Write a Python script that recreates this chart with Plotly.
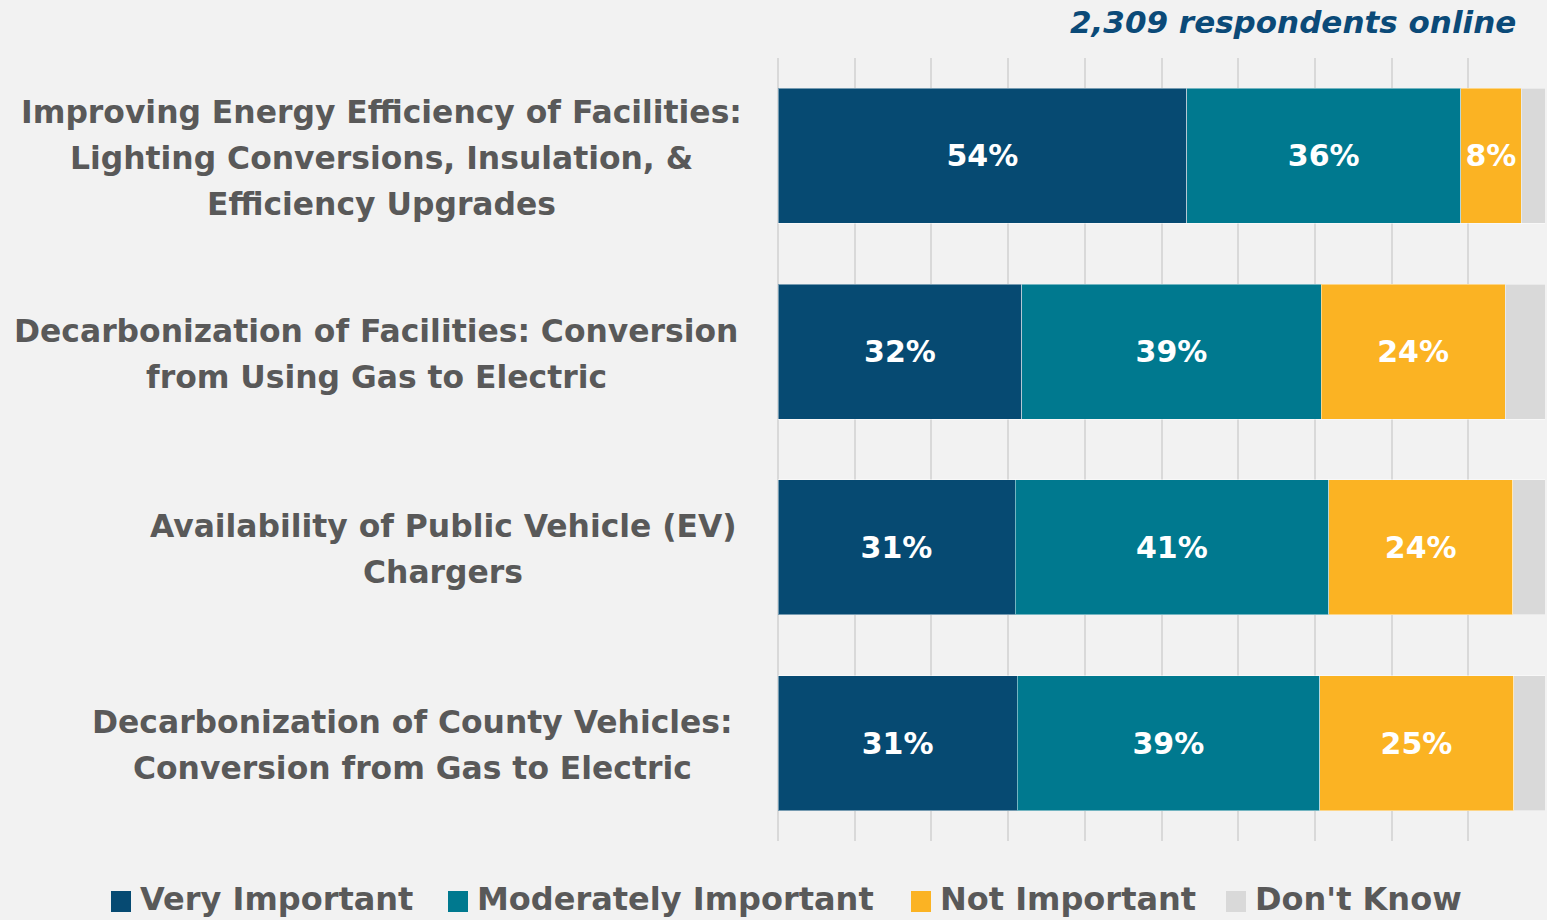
import plotly.graph_objects as go

categories = [
    "Improving Energy Efficiency of Facilities:<br>Lighting Conversions, Insulation, &<br>Efficiency Upgrades",
    "Decarbonization of Facilities: Conversion<br>from Using Gas to Electric",
    "Availability of Public Vehicle (EV)<br>Chargers",
    "Decarbonization of County Vehicles:<br>Conversion from Gas to Electric",
]
series_names = ["Very Important", "Moderately Important", "Not Important", "Don't Know"]
# bar lengths (share of respondents, %) as drawn
very_important = [53.3, 31.8, 30.9, 31.2]
moderately_important = [35.7, 39.0, 40.9, 39.4]
not_important = [7.9, 24.0, 24.0, 25.3]
dont_know = [3.1, 5.2, 4.2, 4.1]
# data labels as printed on the bars
very_important_labels = ["54%", "32%", "31%", "31%"]
moderately_important_labels = ["36%", "39%", "41%", "39%"]
not_important_labels = ["8%", "24%", "24%", "25%"]
dont_know_labels = ["", "", "", ""]
colors = ["#064a72", "#00798f", "#fbb323", "#d9d9d9"]

W, H = 1547, 920
L, R, T, B = 778, 2, 58, 79
PW, PH = W - L - R, H - T - B

def px_x(px):
    return (px - L) / PW

def px_y(py):
    return (H - B - py) / PH

FONT = "'DejaVu Sans', sans-serif"
GREY = "#595959"

series = [very_important, moderately_important, not_important, dont_know]
labels = [very_important_labels, moderately_important_labels, not_important_labels, dont_know_labels]

fig = go.Figure()
for i, (name, vals, txt) in enumerate(zip(series_names, series, labels)):
    fig.add_trace(go.Bar(
        y=categories, x=vals, name=name, orientation="h",
        marker=dict(color=colors[i], line=dict(color="rgba(255,255,255,0.45)", width=1)),
        text=txt, texttemplate="%{text}",
        textposition="inside", insidetextanchor="middle",
        textfont=dict(family=FONT, size=30, color="white", weight="bold"),
        constraintext="none", textangle=0,
        showlegend=False, hoverinfo="skip",
    ))

LINE_H = 46
label_centres = [381, 376, 443, 412]
annotations = []
for c, cx in zip(categories, label_centres):
    lines = c.split("<br>")
    n = len(lines)
    for k, line in enumerate(lines):
        annotations.append(dict(
            x=px_x(cx), xref="paper", y=c, yref="y", xanchor="center", yanchor="middle",
            yshift=((n - 1) / 2 - k) * LINE_H - 2,
            text=line, align="center", showarrow=False,
            font=dict(family=FONT, size=31.4, color=GREY, weight="bold"),
        ))

annotations.append(dict(
    x=px_x(1518), xref="paper", y=px_y(22), yref="paper", xanchor="right", yanchor="middle",
    text="<b><i>2,309 respondents online</i></b>", showarrow=False,
    font=dict(family=FONT, size=31, color="#0b4a78"),
))

shapes = []
legend_sq = [111, 448, 911, 1226]
for name, col, sx in zip(series_names, colors, legend_sq):
    shapes.append(dict(type="rect", xref="paper", yref="paper",
                       x0=px_x(sx), x1=px_x(sx + 20), y0=px_y(912), y1=px_y(891),
                       fillcolor=col, line=dict(width=0)))
    annotations.append(dict(
        x=px_x(sx + 27), xref="paper", y=px_y(899), yref="paper", xanchor="left", yanchor="middle",
        text=name, showarrow=False,
        font=dict(family=FONT, size=32, color=GREY, weight="bold"),
    ))

fig.update_layout(
    barmode="stack", bargap=0.31,
    width=W, height=H,
    margin=dict(l=L, r=R, t=T, b=B, pad=0),
    paper_bgcolor="#f2f2f2", plot_bgcolor="#f2f2f2",
    annotations=annotations, shapes=shapes,
    xaxis=dict(range=[0, 100], dtick=10, showgrid=True, gridcolor="#d9d9d9", gridwidth=2,
               showticklabels=False, zeroline=True, zerolinecolor="#d9d9d9", zerolinewidth=2,
               showline=False, fixedrange=True),
    yaxis=dict(autorange="reversed", showticklabels=False, showgrid=False, zeroline=False,
               showline=False, fixedrange=True),
    showlegend=False,
)

fig.write_html("out.html", config={"displayModeBar": False},
               post_script="document.body.style.margin='0';document.body.style.overflow='hidden';")
